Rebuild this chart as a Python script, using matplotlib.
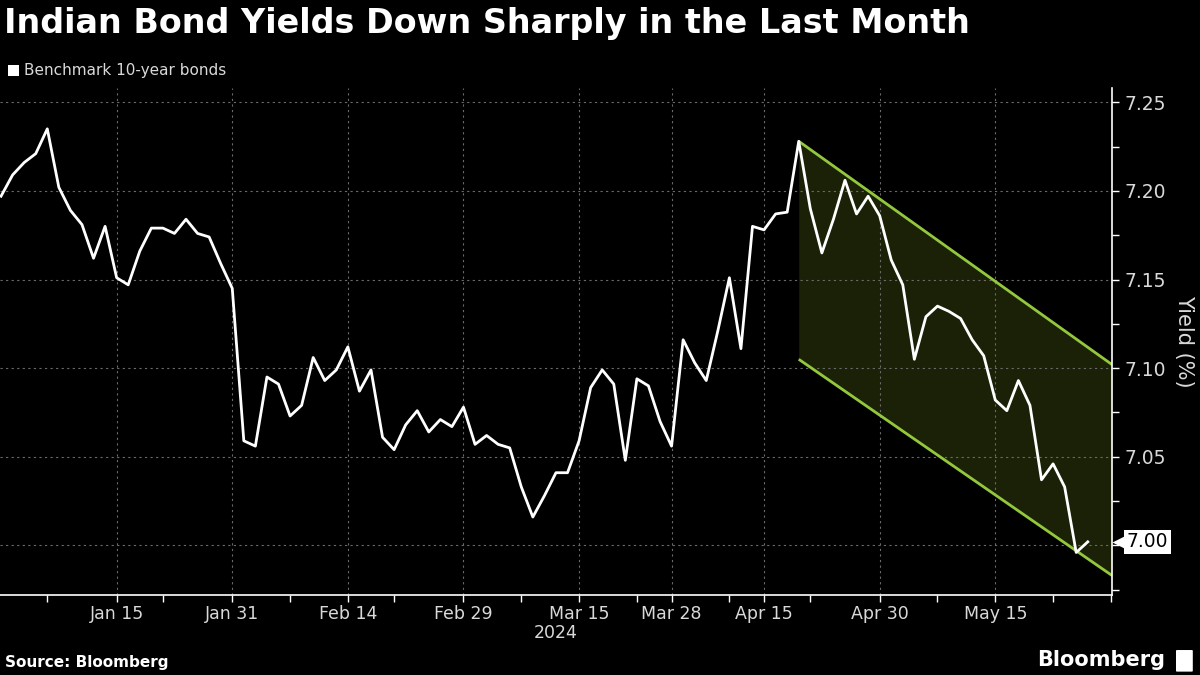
import matplotlib
matplotlib.use('Agg')
import matplotlib.pyplot as plt
import matplotlib.transforms as mtransforms
from matplotlib.patches import FancyBboxPatch, Rectangle

# доходность 10-летних облигаций Индии, по торговым дням (янв - май 2024)
yields = [7.197, 7.209, 7.216, 7.221, 7.235, 7.202, 7.189, 7.181, 7.162, 7.180,
          7.151, 7.147, 7.166, 7.179, 7.179, 7.176, 7.184, 7.176, 7.174, 7.159,
          7.145, 7.059, 7.056, 7.095, 7.091, 7.073, 7.079, 7.106, 7.093, 7.099,
          7.112, 7.087, 7.099, 7.061, 7.054, 7.068, 7.076, 7.064, 7.071, 7.067,
          7.078, 7.057, 7.062, 7.057, 7.055, 7.033, 7.016, 7.028, 7.041, 7.041,
          7.059, 7.089, 7.099, 7.091, 7.048, 7.094, 7.090, 7.070, 7.056, 7.116,
          7.103, 7.093, 7.121, 7.151, 7.111, 7.180, 7.178, 7.187, 7.188, 7.228,
          7.190, 7.165, 7.184, 7.206, 7.187, 7.197, 7.186, 7.161, 7.147, 7.105,
          7.129, 7.135, 7.132, 7.128, 7.116, 7.107, 7.082, 7.076, 7.093, 7.079,
          7.037, 7.046, 7.033, 6.996, 7.002]

# подписи оси X (позиции - номер торгового дня)
tick_idx = [10, 20, 30, 40, 50, 58, 66, 76, 86]
tick_labels = ['Jan 15', 'Jan 31', 'Feb 14', 'Feb 29', 'Mar 15',
               'Mar 28', 'Apr 15', 'Apr 30', 'May 15']
minor_idx = [4, 14, 25, 34, 45, 55, 63, 70, 81, 91, 96]

y_ticks = [7.00, 7.05, 7.10, 7.15, 7.20, 7.25]
y_minor = [6.975, 7.025, 7.075, 7.125, 7.175, 7.225]

# нисходящий канал
channel_x = [69, 96.1]
channel_upper = [7.228, 7.102]
channel_lower = [7.105, 6.983]

green = '#93c83c'
fill_col = '#1a2106'
grid_col = '#6a6a6a'
txt_col = '#d9d9d9'

fig = plt.figure(figsize=(12, 6.75), dpi=100, facecolor='black')
ax = fig.add_axes([0.0, 0.1185, 0.9267, 0.751])
ax.set_facecolor('black')

# канал
ax.fill_between(channel_x, channel_lower, channel_upper, color=fill_col, lw=0, zorder=1)
ax.plot(channel_x, channel_upper, color=green, lw=2, zorder=2, solid_capstyle='butt')
ax.plot(channel_x, channel_lower, color=green, lw=2, zorder=2, solid_capstyle='butt')

# основная линия
ax.plot(range(len(yields)), yields, color='white', lw=2, zorder=3)

ax.set_xlim(-0.09, 96.1)
ax.set_ylim(6.972, 7.258)

ax.set_xticks(tick_idx)
ax.set_xticklabels(tick_labels)
ax.set_xticks(minor_idx, minor=True)
ax.set_yticks(y_ticks)
# 7.00 заменяется подписью последнего значения
ax.set_yticklabels(['' if v == 7.00 else '%.2f' % v for v in y_ticks])
ax.set_yticks(y_minor, minor=True)
ax.yaxis.tick_right()
ax.yaxis.set_label_position('right')

ax.tick_params(axis='x', which='both', colors='white', labelcolor=txt_col,
               labelsize=12.5, length=5, width=1, direction='out', pad=2)
ax.tick_params(axis='y', which='both', colors='white', labelcolor=txt_col,
               labelsize=13.5, length=5, width=1, direction='out', pad=4)

ax.grid(True, which='major', color=grid_col, lw=0.8, ls=(0, (2, 3)))

for side in ['top', 'left']:
    ax.spines[side].set_visible(False)
ax.spines['bottom'].set_color('white')
ax.spines['right'].set_color('white')
ax.spines['bottom'].set_linewidth(1.2)
ax.spines['right'].set_linewidth(1.2)

ax.set_ylabel('Yield (%)', color=txt_col, fontsize=15, rotation=270, labelpad=20)

# подпись последнего значения
trans = mtransforms.blended_transform_factory(ax.transAxes, ax.transData)
ax.plot([1.006], [yields[-1]], marker='<', ms=10, color='white', mec='none',
        transform=trans, clip_on=False, zorder=9)
ax.text(1.013, yields[-1], '%.2f' % yields[-1], transform=trans, ha='left', va='center',
        fontsize=13.5, color='black', zorder=10, clip_on=False,
        bbox=dict(boxstyle='square,pad=0.15', fc='white', ec='none'))

ax.text(0.5, -0.057, '2024', transform=ax.transAxes, ha='center', va='top',
        fontsize=12.5, color=txt_col)

# заголовок, легенда, подписи
fig.text(0.003, 0.965, 'Indian Bond Yields Down Sharply in the Last Month',
         fontsize=24, fontweight='bold', color='white', ha='left', va='center')
fig.patches.append(Rectangle((0.007, 0.887), 0.0085, 0.017, transform=fig.transFigure,
                             fc='white', ec='none'))
fig.text(0.02, 0.895, 'Benchmark 10-year bonds', fontsize=11, color=txt_col,
         ha='left', va='center')
fig.text(0.004, 0.007, 'Source: Bloomberg', fontsize=11, fontweight='bold',
         color='white', ha='left', va='bottom')
fig.text(0.971, 0.007, 'Bloomberg', fontsize=15, fontweight='bold',
         color='white', ha='right', va='bottom')
fig.patches.append(FancyBboxPatch((0.981, 0.006), 0.012, 0.03,
                                  boxstyle='round,pad=0.001', transform=fig.transFigure,
                                  fc='white', ec='none'))

fig.savefig('out.png', dpi=100, facecolor='black')
